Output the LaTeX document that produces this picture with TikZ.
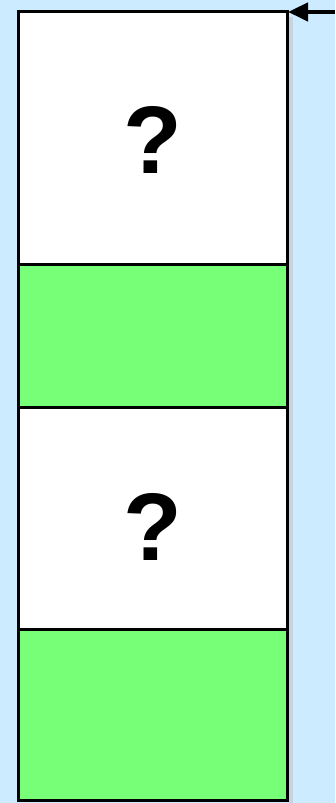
\documentclass[tikz,border=0pt]{standalone}
\usepackage{fontspec}
\setmainfont{Liberation Sans}
\usetikzlibrary{arrows.meta}
\definecolor{bgblue}{RGB}{204,235,255}
\definecolor{cellgreen}{RGB}{120,255,120}
\tikzset{
  cell/.style={draw=black,line width=3pt,minimum width=269pt,inner sep=0pt,outer sep=0pt,anchor=north west},
  qmark/.style={font=\fontsize{96}{96}\selectfont\bfseries}
}
\begin{document}
\begin{tikzpicture}[x=1pt,y=1pt]
\fill[bgblue] (0,0) rectangle (335,803);
\useasboundingbox (0,0) rectangle (335,803);
\fill[black!25,opacity=0.5] (289,0) rectangle (293,786);
\node[cell,fill=white,minimum height=253pt] (w1) at (18,791) {};
\node[cell,fill=cellgreen,minimum height=143pt] (g1) at (w1.south west) {};
\node[cell,fill=white,minimum height=222pt] (w2) at (g1.south west) {};
\node[cell,fill=cellgreen,minimum height=171pt] (g2) at (w2.south west) {};
\node[qmark] (q1) at (152.5,663) {?};
\node[qmark] (q2) at (152.5,276) {?};
\coordinate (astart) at (335,791);
\draw[line width=4.5pt,-{Triangle[length=20pt,width=18pt]}] (astart) -- ([xshift=1pt]w1.north east);
\end{tikzpicture}
\end{document}
